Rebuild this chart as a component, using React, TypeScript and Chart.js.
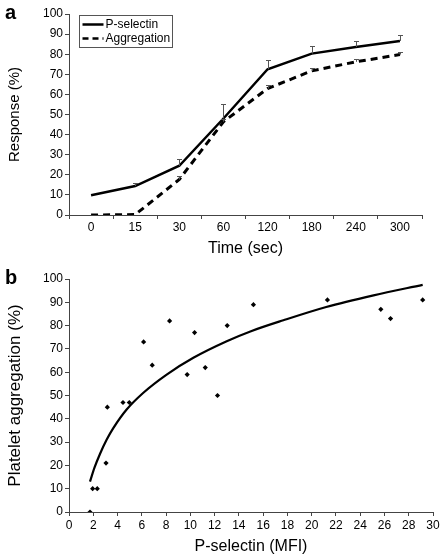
import React, { useEffect, useRef } from 'react';
import { Chart, registerables } from 'chart.js';
Chart.register(...registerables);

const FONT = "'Liberation Sans', Arial, sans-serif";

// Panel a
const timeLabels = ['0', '15', '30', '60', '120', '180', '240', '300'];
const pSelectin = [9.8, 14.4, 24.5, 48, 72.5, 80.3, 83.6, 86.6];
const pSelectinErr = [0, 1.7, 3.5, 7, 4.5, 3.7, 3.2, 2.8];
const aggregation = [0, 0.2, 17.7, 46.4, 62.9, 71.7, 76.2, 79.8];
const aggregationErr = [0, 0, 1.5, 1.5, 1.7, 1.3, 1.3, 1.1];

// Panel b
const mfiX = [1.73, 1.95, 2.33, 3.05, 3.16, 4.45, 4.97, 6.15, 6.86, 8.29, 9.74, 10.35, 11.23, 12.24, 13.04, 15.2, 21.3, 25.7, 26.5, 29.15];
const aggY = [0, 10, 10, 21, 45, 47, 47, 73, 63, 82, 59, 77, 62, 50, 80, 89, 91, 87, 83, 91];
const curveX = [1.73, 2.1, 2.56, 3.1, 3.65, 4.75, 6.13, 8.05, 10.25, 13, 15, 17.67, 21.2, 25.1, 29.15];
const curveY = [13, 19, 25, 31, 36, 44, 51.2, 59, 66.2, 73.3, 77.6, 82.3, 88, 93, 97.5];

const AXIS = '#444';

const panelLabel = (text: string) => ({
  id: 'panelLabel' + text,
  afterDraw(chart: any) {
    const ctx = chart.ctx;
    ctx.save();
    ctx.fillStyle = '#000';
    ctx.font = `bold 20px ${FONT}`;
    ctx.textBaseline = 'alphabetic';
    ctx.fillText(text, 5, 19);
    ctx.restore();
  },
});

const errorBars = {
  id: 'errorBars',
  afterDatasetsDraw(chart: any) {
    const ctx = chart.ctx;
    const ys = chart.scales.y;
    const errs = [pSelectinErr, aggregationErr];
    const vals = [pSelectin, aggregation];
    ctx.save();
    ctx.strokeStyle = '#555';
    ctx.lineWidth = 1;
    for (let d = 0; d < 2; d++) {
      const meta = chart.getDatasetMeta(d);
      meta.data.forEach((pt: any, j: number) => {
        const e = errs[d][j];
        if (!e) return;
        const y0 = ys.getPixelForValue(vals[d][j]);
        const y1 = ys.getPixelForValue(vals[d][j] + e);
        const x = Math.round(pt.x) + 0.5;
        ctx.beginPath();
        ctx.moveTo(x, y0);
        ctx.lineTo(x, Math.round(y1) + 0.5);
        ctx.moveTo(x - 2.5, Math.round(y1) + 0.5);
        ctx.lineTo(x + 2.5, Math.round(y1) + 0.5);
        ctx.stroke();
      });
    }
    ctx.restore();
  },
};

const boxLegend = {
  id: 'boxLegend',
  afterDraw(chart: any) {
    const ctx = chart.ctx;
    const a = chart.chartArea;
    const x = a.left + 10.5;
    const y = a.top + 1.5;
    const w = 93;
    const h = 32;
    ctx.save();
    ctx.fillStyle = '#fff';
    ctx.fillRect(x, y, w, h);
    ctx.strokeStyle = '#555';
    ctx.lineWidth = 1;
    ctx.strokeRect(x, y, w, h);
    ctx.strokeStyle = '#000';
    ctx.lineWidth = 2.5;
    ctx.beginPath();
    ctx.moveTo(x + 3, y + 9);
    ctx.lineTo(x + 24, y + 9);
    ctx.stroke();
    ctx.setLineDash([6, 4]);
    ctx.beginPath();
    ctx.moveTo(x + 3, y + 23);
    ctx.lineTo(x + 24, y + 23);
    ctx.stroke();
    ctx.setLineDash([]);
    ctx.fillStyle = '#000';
    ctx.font = `12px ${FONT}`;
    ctx.textBaseline = 'middle';
    ctx.fillText('P-selectin', x + 26, y + 9);
    ctx.fillText('Aggregation', x + 26, y + 23);
    ctx.restore();
  },
};

export default function App() {
  const refA = useRef<HTMLCanvasElement>(null);
  const refB = useRef<HTMLCanvasElement>(null);

  useEffect(() => {
    Chart.defaults.font.family = FONT;
    Chart.defaults.color = '#000';

    const chartA = new Chart(refA.current!, {
      type: 'line',
      data: {
        labels: timeLabels,
        datasets: [
          {
            label: 'P-selectin',
            data: pSelectin,
            borderColor: '#000',
            borderWidth: 2.5,
            pointRadius: 0,
            tension: 0,
          },
          {
            label: 'Aggregation',
            data: aggregation,
            borderColor: '#000',
            borderWidth: 3,
            borderDash: [7, 5],
            pointRadius: 0,
            tension: 0,
          },
        ],
      },
      options: {
        animation: false,
        responsive: false,
        layout: { autoPadding: false, padding: { top: 14, right: 23, bottom: 0, left: 0 } },
        plugins: { legend: { display: false }, tooltip: { enabled: false } },
        scales: {
          x: {
            type: 'category',
            offset: true,
            afterFit: (s: any) => { s.height = 50; },
            grid: { display: true, drawOnChartArea: false, drawTicks: true, tickLength: 4, offset: true, color: AXIS },
            border: { color: AXIS, width: 1 },
            ticks: { font: { size: 12 }, color: '#000', padding: 1, maxRotation: 0 },
            title: { display: true, text: 'Time (sec)', font: { size: 16 }, color: '#000', padding: { top: 0, bottom: 7 } },
          },
          y: {
            min: 0,
            max: 100,
            afterFit: (s: any) => { s.width = 69; },
            grid: { display: true, drawOnChartArea: false, drawTicks: true, tickLength: 4, color: AXIS },
            border: { color: AXIS, width: 1 },
            ticks: { stepSize: 10, font: { size: 12 }, color: '#000', padding: 2 },
            title: { display: true, text: 'Response (%)', font: { size: 15 }, color: '#000', padding: { top: 6, bottom: 0 } },
          },
        },
      },
      plugins: [errorBars, boxLegend, panelLabel('a')],
    });

    const chartB = new Chart(refB.current!, {
      type: 'scatter',
      data: {
        datasets: [
          {
            label: 'data',
            data: mfiX.map((x, i) => ({ x, y: aggY[i] })),
            backgroundColor: '#000',
            borderColor: '#000',
            pointStyle: 'rectRot',
            pointRadius: 2.6,
            borderWidth: 0,
          },
          {
            label: 'fit',
            type: 'line',
            data: curveX.map((x, i) => ({ x, y: curveY[i] })),
            borderColor: '#000',
            borderWidth: 2.2,
            pointRadius: 0,
            cubicInterpolationMode: 'monotone',
            showLine: true,
          } as any,
        ],
      },
      options: {
        animation: false,
        responsive: false,
        layout: { autoPadding: false, padding: { top: 14, right: 12, bottom: 0, left: 0 } },
        plugins: { legend: { display: false }, tooltip: { enabled: false } },
        scales: {
          x: {
            type: 'linear',
            min: 0,
            max: 30,
            afterFit: (s: any) => { s.height = 44; },
            grid: { display: true, drawOnChartArea: false, drawTicks: true, tickLength: 4, color: AXIS },
            border: { color: AXIS, width: 1 },
            ticks: { stepSize: 2, font: { size: 12 }, color: '#000', padding: 2, maxRotation: 0, autoSkip: false },
            title: { display: true, text: 'P-selectin (MFI)', font: { size: 16 }, color: '#000', padding: { top: 0, bottom: 0 } },
          },
          y: {
            min: 0,
            max: 100,
            afterFit: (s: any) => { s.width = 69; },
            grid: { display: true, drawOnChartArea: false, drawTicks: true, tickLength: 4, color: AXIS },
            border: { color: AXIS, width: 1 },
            ticks: { stepSize: 10, font: { size: 12 }, color: '#000', padding: 2 },
            title: { display: true, text: 'Platelet aggregation (%)', font: { size: 17 }, color: '#000', padding: { top: 5, bottom: 0 } },
          },
        },
      },
      plugins: [panelLabel('b')],
    });

    return () => {
      chartA.destroy();
      chartB.destroy();
    };
  }, []);

  return (
    <div style={{ position: 'absolute', left: 0, top: 0, width: 445, height: 556, background: '#fff' }}>
      <canvas ref={refA} width={445} height={265} style={{ position: 'absolute', left: 0, top: 0, width: 445, height: 265 }} />
      <canvas ref={refB} width={445} height={291} style={{ position: 'absolute', left: 0, top: 265, width: 445, height: 291 }} />
    </div>
  );
}
